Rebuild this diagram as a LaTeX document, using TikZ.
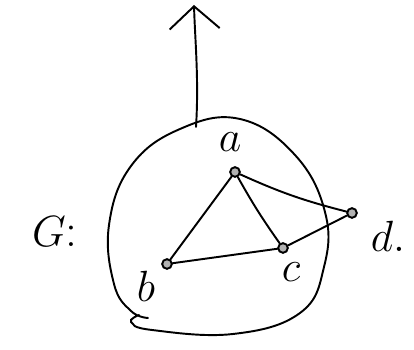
\documentclass[tikz,border=0pt]{standalone}
\usetikzlibrary{arrows.meta}

\begin{document}
\begin{tikzpicture}[
				x=0.02cm, y=-0.02cm,
				line width=1.1pt,
				vtx/.style={draw, circle, fill=gray!60, inner sep=0pt, minimum size=5.5pt},
				lbl/.style={font=\fontsize{27}{30}\selectfont},
				edge/.style={line cap=round},
				arrow/.style={-{Straight Barb[length=4.5mm, width=10mm]}, line cap=round}
				]
				
				\useasboundingbox (0,0) rectangle (414,350);
				
				% Outer blob
				\draw[line cap=round] plot[smooth, tension=0.7] coordinates {
					(139,315) (131,322) (152,330) (233,334) (300,313) (324,267)
					(325,212) (295,155) (240,119) (180,129) (131,166) (109,225)
					(114,284) (131,311) (148,318)};
				
				% Up arrow
				\coordinate (gtop) at (196,127);
				\coordinate (tip) at (194,5);
				\draw[arrow] (gtop) .. controls (199,80) and (195,40) .. (tip);
				
				% Vertices
				\node[vtx] (a) at (235,172) {};
				\node[vtx] (b) at (167,264) {};
				\node[vtx] (c) at (283,248) {};
				\node[vtx] (d) at (352,213) {};
				
				% Edges
				\draw[edge] (a) -- (b);
				\draw[edge] (b) -- (c);
				\draw[edge] (a) to[bend right=3] (c);
				\draw[edge] (a) to[bend right=5] (d);
				\draw[edge] (c) -- (d);
				
				% Labels
				\node[lbl] (la) at (230,142) {$a$};
				\node[lbl] (lb) at (146,286) {$b$};
				\node[lbl] (lc) at (291,272) {$c$};
				\node[lbl] (ld) at (388,236) {$d.$};
				\node[lbl] (lg) at (55,232) {$G$:};
				
			\end{tikzpicture}
\end{document}
